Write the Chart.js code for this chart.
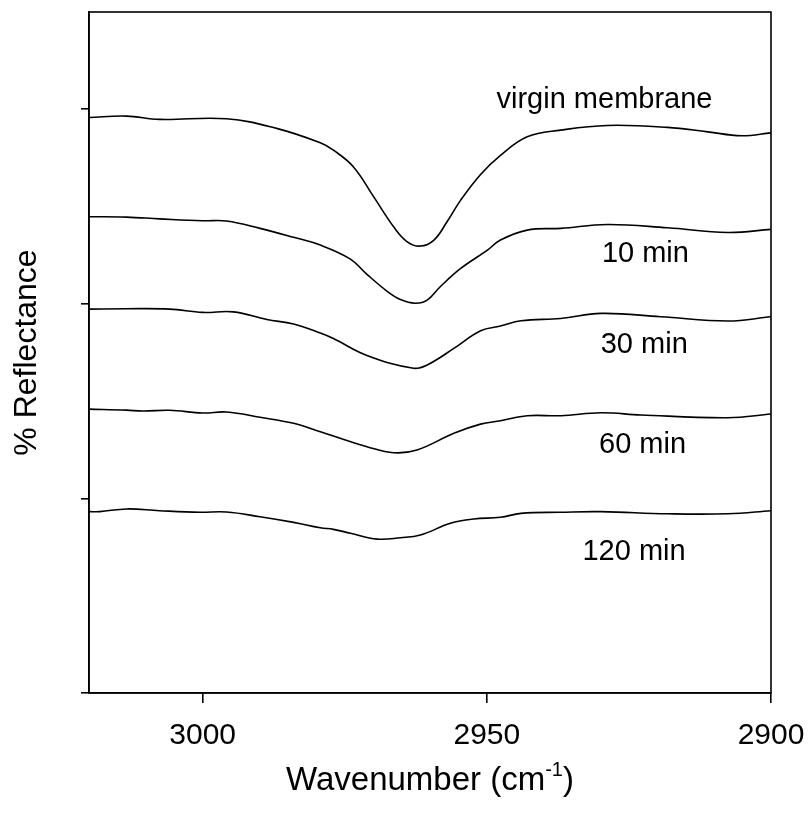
<!DOCTYPE html>
<html>
<head>
<meta charset="utf-8">
<script src="https://cdn.jsdelivr.net/npm/chart.js@4.4.1/dist/chart.umd.min.js"></script>
<style>
    html, body { margin: 0; padding: 0; background: #fff; }
    #wrap { width: 808px; height: 816px; }
</style>
</head>
<body>
<div id="wrap"><canvas id="chart" width="808" height="816"></canvas></div>
<script>
// wavenumber (cm-1) and stacked reflectance offsets
const virginX = [3020, 3013.4, 3007.6, 2995.8, 2987.0, 2979.3, 2977.0, 2973.5, 2969.9, 2966.4, 2964.0, 2961.7, 2959.3, 2957.0, 2954.6, 2951.1, 2947.6, 2942.9, 2937.0, 2928.8, 2918.2, 2911.1, 2905.2, 2900];
const virginY = [2.958, 2.965, 2.948, 2.951, 2.902, 2.828, 2.790, 2.705, 2.550, 2.396, 2.319, 2.297, 2.328, 2.422, 2.533, 2.665, 2.763, 2.859, 2.893, 2.917, 2.907, 2.884, 2.864, 2.879];

const min10X = [3020, 3013.4, 3007.6, 3000.0, 2995.8, 2989.9, 2984.0, 2979.3, 2974.0, 2971.1, 2967.6, 2965.2, 2962.6, 2960.5, 2958.2, 2954.6, 2949.9, 2947.6, 2942.9, 2937.0, 2928.8, 2918.2, 2907.6, 2900];
const min10Y = [2.448, 2.446, 2.437, 2.427, 2.426, 2.388, 2.342, 2.302, 2.230, 2.152, 2.066, 2.022, 2.003, 2.019, 2.088, 2.182, 2.276, 2.328, 2.379, 2.388, 2.408, 2.391, 2.367, 2.383];

const min30X = [3020, 3013.4, 3005.8, 3000.0, 2994.6, 2988.7, 2984.0, 2979.3, 2977.0, 2971.1, 2962.9, 2960.5, 2955.8, 2951.1, 2947.6, 2944.0, 2937.0, 2929.9, 2919.4, 2907.6, 2900];
const min30Y = [1.973, 1.975, 1.973, 1.956, 1.959, 1.920, 1.896, 1.850, 1.822, 1.735, 1.669, 1.686, 1.771, 1.862, 1.886, 1.913, 1.925, 1.951, 1.934, 1.912, 1.934];

const min60X = [3020, 3013.4, 3010.5, 3005.8, 3000.0, 2995.8, 2989.9, 2984.0, 2979.3, 2975.8, 2971.1, 2966.4, 2962.3, 2955.8, 2951.1, 2947.6, 2942.9, 2937.0, 2929.9, 2922.9, 2907.6, 2900];
const min60Y = [1.459, 1.454, 1.449, 1.453, 1.439, 1.444, 1.417, 1.386, 1.343, 1.309, 1.266, 1.235, 1.249, 1.335, 1.382, 1.399, 1.425, 1.425, 1.440, 1.429, 1.415, 1.434];

const min120X = [3020, 3018.1, 3013.4, 3007.6, 3000.5, 2995.8, 2989.9, 2984.0, 2979.3, 2977.0, 2974.0, 2969.3, 2965.2, 2961.7, 2956.4, 2952.3, 2947.6, 2944.0, 2937.0, 2929.9, 2918.2, 2907.6, 2900];
const min120Y = [0.932, 0.932, 0.946, 0.937, 0.929, 0.930, 0.906, 0.877, 0.849, 0.841, 0.821, 0.791, 0.798, 0.812, 0.872, 0.894, 0.903, 0.923, 0.929, 0.932, 0.921, 0.921, 0.937];

const seriesNames = ['virgin membrane', '10 min', '30 min', '60 min', '120 min'];
const xTicks = [3000, 2950, 2900];
const yTicks = [0, 1, 2, 3];

const FONT = 'Arial, "Liberation Sans", Helvetica, sans-serif';

const toPoints = (xs, ys) => xs.map((x, i) => ({ x: x, y: ys[i] }));
const allSeries = [
    toPoints(virginX, virginY),
    toPoints(min10X, min10Y),
    toPoints(min30X, min30Y),
    toPoints(min60X, min60Y),
    toPoints(min120X, min120Y)
];

// where each curve's name sits (data coordinates, text centre / baseline)
const labelSpots = [
    { x: 2929.3, y: 3.006 },
    { x: 2922.1, y: 2.215 },
    { x: 2922.3, y: 1.747 },
    { x: 2922.6, y: 1.232 },
    { x: 2924.1, y: 0.683 }
];

const frame = {
    id: 'frame',
    afterDatasetsDraw(chart) {
        const { ctx, chartArea: a, scales } = chart;
        ctx.save();
        ctx.strokeStyle = '#000';
        ctx.lineWidth = 1.6;
        ctx.strokeRect(a.left, a.top, a.right - a.left, a.bottom - a.top);

        ctx.fillStyle = '#000';
        ctx.font = '29px ' + FONT;
        ctx.textAlign = 'center';
        ctx.textBaseline = 'alphabetic';
        seriesNames.forEach((name, i) => {
            const px = scales.x.getPixelForValue(labelSpots[i].x);
            const py = scales.y.getPixelForValue(labelSpots[i].y);
            ctx.fillText(name, px, py);
        });

        // x title with superscript
        const main = 'Wavenumber (cm';
        const sup = '-1';
        const tail = ')';
        ctx.font = '33px ' + FONT;
        const w1 = ctx.measureText(main).width;
        const w3 = ctx.measureText(tail).width;
        ctx.font = '20px ' + FONT;
        const w2 = ctx.measureText(sup).width;
        const cx = (a.left + a.right) / 2;
        const base = 790;
        let x0 = cx - (w1 + w2 + w3) / 2;
        ctx.textAlign = 'left';
        ctx.font = '33px ' + FONT;
        ctx.fillText(main, x0, base);
        ctx.font = '20px ' + FONT;
        ctx.fillText(sup, x0 + w1, base - 14);
        ctx.font = '33px ' + FONT;
        ctx.fillText(tail, x0 + w1 + w2, base);
        ctx.restore();
    }
};

new Chart(document.getElementById('chart'), {
    type: 'line',
    data: {
        datasets: allSeries.map((pts, i) => ({
            label: seriesNames[i],
            data: pts,
            borderColor: '#000',
            borderWidth: 1.6,
            pointRadius: 0,
            fill: false,
            tension: 0.4
        }))
    },
    options: {
        responsive: false,
        animation: false,
        layout: { padding: { top: 12, right: 37, left: 0, bottom: 0 } },
        plugins: {
            legend: { display: false },
            tooltip: { enabled: false }
        },
        scales: {
            x: {
                type: 'linear',
                reverse: true,
                min: 2900,
                max: 3020,
                afterBuildTicks: (scale) => { scale.ticks = xTicks.map(v => ({ value: v })); },
                afterFit: (scale) => {
                    scale.height = 123;
                    scale.paddingLeft = 0;
                    scale.paddingRight = 0;
                },
                grid: { drawOnChartArea: false, drawTicks: true, tickLength: 10, color: '#000', lineWidth: 1.6 },
                border: { display: true, color: '#000', width: 1.6 },
                ticks: {
                    color: '#000',
                    font: { family: FONT, size: 30 },
                    padding: 15,
                    maxRotation: 0,
                    callback: (v) => String(v)
                },
                title: { display: false }
            },
            y: {
                type: 'linear',
                min: 0,
                max: 3.5,
                afterBuildTicks: (scale) => { scale.ticks = yTicks.map(v => ({ value: v })); },
                afterFit: (scale) => {
                    scale.width = 89;
                    scale.paddingTop = 0;
                    scale.paddingBottom = 0;
                },
                grid: { drawOnChartArea: false, drawTicks: true, tickLength: 8, color: '#000', lineWidth: 1.6 },
                border: { display: true, color: '#000', width: 1.6 },
                ticks: { display: true, callback: () => '' },
                title: {
                    display: true,
                    text: '% Reflectance',
                    color: '#000',
                    font: { family: FONT, size: 32 },
                    padding: { top: 8, bottom: 0 }
                }
            }
        }
    },
    plugins: [frame]
});
</script>
</body>
</html>
